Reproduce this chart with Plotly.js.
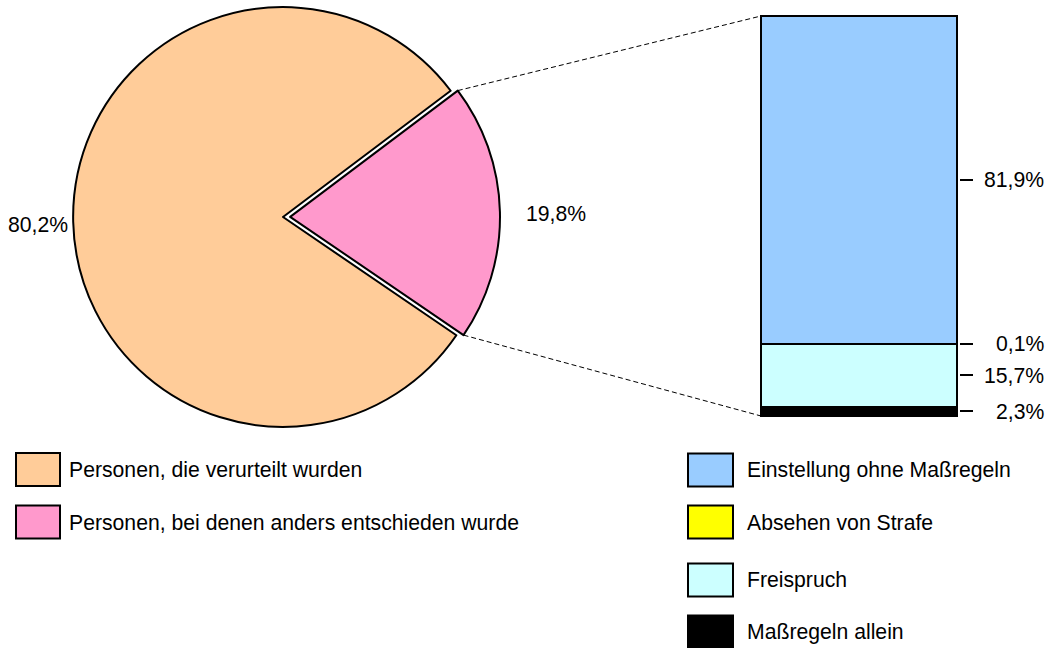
<!DOCTYPE html>
<html><head><meta charset="utf-8">
<script src="https://cdn.plot.ly/plotly-3.0.1.min.js"></script>
<style>html,body{margin:0;padding:0;background:#fff}#chart{width:1050px;height:648px}</style>
</head><body><div id="chart"></div>
<script>
// ---- data ----
const pieLabels = ['Personen, die verurteilt wurden', 'Personen, bei denen anders entschieden wurde'];
const pieValues = [80.2, 19.8];
const pieColors = ['#FFCC99', '#FF99CC'];
const piePull = [0, 0.034];

// stacked bar, bottom to top
const barLabels = ['Maßregeln allein', 'Freispruch', 'Absehen von Strafe', 'Einstellung ohne Maßregeln'];
const barValues = [2.3, 15.7, 0.1, 81.9];
const barColors = ['#000000', '#CCFFFF', '#FFFF00', '#99CCFF'];

// ---- layout constants (pixels) ----
const W = 1050, H = 648;
const FONT = '"Liberation Sans", Arial, sans-serif';
const FS = 21.2;
const pieBox = {x0: 65, x1: 501, y0: 0, y1: 434};
const pieRotation = 124.3;
const barBox = {x0: 759, x1: 959, y0: 12, y1: 420};
const barHalf = 0.5 * 200 / 196;
const yRange = [-1, 101];

const fx = px => px / W;
const fy = py => 1 - py / H;
const fmt = v => v.toFixed(1).replace('.', ',') + '%';

const data = [];
data.push({
  type: 'pie',
  labels: pieLabels,
  values: pieValues,
  sort: false,
  direction: 'clockwise',
  rotation: pieRotation,
  pull: piePull,
  marker: {colors: pieColors, line: {color: '#000', width: 2}},
  textinfo: 'none',
  hoverinfo: 'none',
  showlegend: false,
  domain: {x: [fx(pieBox.x0), fx(pieBox.x1)], y: [fy(pieBox.y1), fy(pieBox.y0)]}
});
barValues.forEach((v, i) => {
  data.push({
    type: 'bar',
    x: [0], y: [v], width: [1],
    name: barLabels[i],
    marker: {color: barColors[i], line: {color: '#000', width: 2}},
    hoverinfo: 'none',
    showlegend: false,
    xaxis: 'x', yaxis: 'y'
  });
});

// bar segment centres
const centers = [];
let cum = 0;
barValues.forEach(v => { centers.push(cum + v / 2); cum += v; });
const total = cum;

const annotations = [];
const shapes = [];

// bar labels (right aligned)
barValues.forEach((v, i) => {
  annotations.push({
    xref: 'paper', yref: 'y', x: fx(1046), y: centers[i],
    xanchor: 'right', yanchor: 'middle', showarrow: false,
    text: fmt(v), font: {family: FONT, size: FS, color: '#000'}
  });
});

// pie geometry (as Plotly computes it)
const maxPull = Math.max(...piePull);
const r = Math.min(pieBox.x1 - pieBox.x0, pieBox.y1 - pieBox.y0) / (2 + 2 * maxPull);
const cx = (pieBox.x0 + pieBox.x1) / 2, cy = (pieBox.y0 + pieBox.y1) / 2;
const pieTotal = pieValues.reduce((a, b) => a + b, 0);
const rot = pieRotation * Math.PI / 180;
const a0 = rot + 2 * Math.PI * pieValues[0] / pieTotal;
const a1 = rot + 2 * Math.PI;
const am = (a0 + a1) / 2;
const vx = cx + piePull[1] * r * Math.sin(am), vy = cy - piePull[1] * r * Math.cos(am);
const pTop = [vx + r * Math.sin(a0), vy - r * Math.cos(a0)];
const pBot = [vx + r * Math.sin(a1), vy - r * Math.cos(a1)];

// bar pixel geometry
const barLeftPx = barBox.x0 + (-0.5 + barHalf) / (2 * barHalf) * (barBox.x1 - barBox.x0);
const yPx = v => barBox.y1 - (v - yRange[0]) / (yRange[1] - yRange[0]) * (barBox.y1 - barBox.y0);

[[pTop, yPx(total)], [pBot, yPx(0)]].forEach(([p, by]) => {
  shapes.push({
    type: 'line', xref: 'paper', yref: 'paper', layer: 'below',
    x0: fx(p[0]), y0: fy(p[1]), x1: fx(barLeftPx), y1: fy(by),
    line: {color: '#000', width: 1, dash: '5px,3px'}
  });
});

// pie labels
annotations.push({
  xref: 'paper', yref: 'paper', x: fx(70), y: fy(224), xanchor: 'right', yanchor: 'middle',
  showarrow: false, text: fmt(pieValues[0]), font: {family: FONT, size: FS, color: '#000'}
});
annotations.push({
  xref: 'paper', yref: 'paper', x: fx(524), y: fy(213), xanchor: 'left', yanchor: 'middle',
  showarrow: false, text: fmt(pieValues[1]), font: {family: FONT, size: FS, color: '#000'}
});

// legends
function legendItem(boxX0, boxX1, textX, rowY, color, label) {
  shapes.push({
    type: 'rect', xref: 'paper', yref: 'paper',
    x0: fx(boxX0), x1: fx(boxX1), y0: fy(rowY - 16.5), y1: fy(rowY + 16.5),
    fillcolor: color, line: {color: '#000', width: 2}
  });
  annotations.push({
    xref: 'paper', yref: 'paper', x: fx(textX), y: fy(rowY), xanchor: 'left', yanchor: 'middle',
    showarrow: false, text: label, font: {family: FONT, size: FS, color: '#000'}
  });
}
const leftRows = [469.5, 522];
pieLabels.forEach((l, i) => legendItem(16, 60, 67, leftRows[i], pieColors[i], l));
const rightRows = [470, 522, 580, 632];
for (let k = 0; k < barLabels.length; k++) {
  const i = barLabels.length - 1 - k;
  legendItem(688, 733, 745, rightRows[k], barColors[i], barLabels[i]);
}

const layout = {
  width: W, height: H,
  margin: {l: 0, r: 0, t: 0, b: 0},
  paper_bgcolor: '#fff', plot_bgcolor: 'rgba(0,0,0,0)',
  barmode: 'stack',
  showlegend: false,
  font: {family: FONT, size: FS, color: '#000'},
  xaxis: {domain: [fx(barBox.x0), fx(barBox.x1)], range: [-barHalf, barHalf], visible: false, fixedrange: true},
  yaxis: {domain: [fy(barBox.y1), fy(barBox.y0)], range: yRange, side: 'right', anchor: 'x',
          showgrid: false, zeroline: false, showline: false, ticks: 'outside', ticklen: 13, tickwidth: 2,
          tickcolor: '#000', tickvals: centers, showticklabels: false, fixedrange: true},
  annotations: annotations,
  shapes: shapes
};

Plotly.newPlot('chart', data, layout, {displayModeBar: false, staticPlot: true});
</script>
</body></html>
